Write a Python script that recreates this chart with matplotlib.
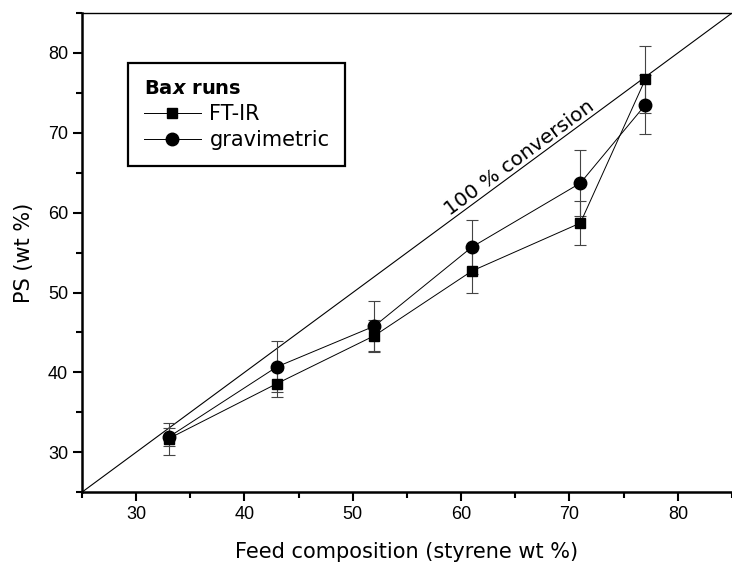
import matplotlib
matplotlib.use("Agg")
import matplotlib.pyplot as plt
import numpy as np

plt.rcParams["font.family"] = ["DejaVu Sans"]
plt.rcParams["mathtext.fontset"] = "dejavusans"

# feed composition (styrene wt %)
feed = [33, 43, 52, 61, 71, 77]

# Bax runs, PS content (wt %)
ftir = [31.7, 38.6, 44.6, 52.7, 58.7, 76.7]
ftir_err = [2.0, 1.7, 2.0, 2.7, 2.7, 4.2]
gravimetric = [31.9, 40.7, 45.8, 55.7, 63.7, 73.5]
gravimetric_err = [1.1, 3.2, 3.1, 3.4, 4.1, 3.7]

# 100 % conversion reference (PS = feed)
conversion = [25, 85]

fig = plt.figure(figsize=(7.32, 5.67), dpi=100)
ax = fig.add_axes([0.112, 0.132, 0.888, 0.845])

ax.plot(conversion, conversion, color="black", lw=0.8)

err_style = dict(ecolor="#444444", elinewidth=0.8, capsize=4, capthick=0.8)
ax.errorbar(feed, ftir, yerr=ftir_err, fmt="none", **err_style)
ax.errorbar(feed, gravimetric, yerr=gravimetric_err, fmt="none", **err_style)

ax.plot(feed, ftir, color="black", lw=0.7, marker="s", ms=7.5,
        mfc="black", mec="black", label="FT-IR")
ax.plot(feed, gravimetric, color="black", lw=0.7, marker="o", ms=9,
        mfc="black", mec="black", label="gravimetric")

ax.text(65.9, 65.9, "100 % conversion", rotation=36.4, rotation_mode="anchor",
        ha="center", va="bottom", fontsize=14.5)

ax.set_xlim(25, 85)
ax.set_ylim(25, 85)
ax.set_xticks(np.arange(30, 81, 10))
ax.set_xticks(np.arange(25, 86, 5), minor=True)
ax.set_yticks(np.arange(30, 81, 10))
ax.set_yticks(np.arange(25, 86, 5), minor=True)
ax.tick_params(which="major", direction="out", length=6.5, width=1.5,
               colors="black")
ax.tick_params(which="minor", direction="out", length=4, width=1.5)
for lbl in ax.get_xticklabels() + ax.get_yticklabels():
    lbl.set_family("Liberation Sans")
    lbl.set_fontsize(13)

for side in ("left", "bottom"):
    ax.spines[side].set_linewidth(1.8)
ax.spines["top"].set_linewidth(1.0)
ax.spines["right"].set_visible(False)

ax.set_xlabel("Feed composition (styrene wt %)", fontsize=15, labelpad=14)
ax.set_ylabel("PS (wt %)", fontsize=15, labelpad=10)

leg = ax.legend(loc="upper left", bbox_to_anchor=(0.071, 0.895),
                borderaxespad=0, title=r"Ba$\mathbfit{x}$ runs", alignment="left",
                title_fontproperties={"weight": "bold", "size": 14},
                fontsize=15, frameon=True, fancybox=False, framealpha=1,
                handlelength=2.75, handletextpad=0.4, borderpad=0.75,
                labelspacing=0.3)
leg.get_frame().set_edgecolor("black")
leg.get_frame().set_linewidth(1.6)

fig.savefig("out.png", dpi=100)
